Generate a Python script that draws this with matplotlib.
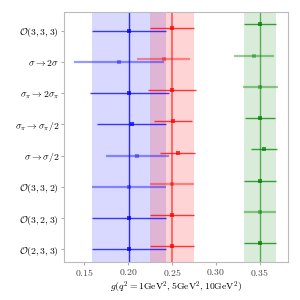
import matplotlib
matplotlib.use("Agg")
import matplotlib.pyplot as plt
import numpy as np

plt.rcParams['mathtext.fontset'] = 'cm'
plt.rcParams['font.family'] = ['DejaVu Serif']

labels = [r'$\mathcal{O}(3,3,3)$', r'$\sigma\rightarrow2\sigma$', r'$\sigma_\pi\rightarrow2\sigma_\pi$',
          r'$\sigma_\pi\rightarrow\sigma_\pi/2$', r'$\sigma\rightarrow\sigma/2$',
          r'$\mathcal{O}(3,3,2)$', r'$\mathcal{O}(3,2,3)$', r'$\mathcal{O}(2,3,3)$']

# values per q^2 (1, 5, 10 GeV^2), rows from top to bottom
blue_val = [0.2015, 0.1894, 0.2015, 0.2042, 0.2106, 0.2015, 0.2015, 0.2015]
blue_err = [0.042, 0.051, 0.045, 0.039, 0.036, 0.042, 0.042, 0.042]
red_val = [0.2497, 0.2406, 0.2500, 0.2508, 0.2565, 0.2497, 0.2497, 0.2497]
red_err = [0.025, 0.030, 0.027, 0.0216, 0.020, 0.025, 0.025, 0.025]
green_val = [0.350, 0.3436, 0.3503, 0.350, 0.3549, 0.350, 0.350, 0.350]
green_err = [0.018, 0.0227, 0.020, 0.017, 0.015, 0.018, 0.018, 0.018]
# faded (disfavoured) markers
blue_faded = [False, True, False, False, True, True, False, False]
red_faded = [False, True, False, False, False, True, False, False]
green_faded = [False, True, True, False, False, False, True, False]

xticks = [0.15, 0.20, 0.25, 0.30, 0.35]

fig = plt.figure(figsize=(3, 3), dpi=100)
ax = fig.add_axes([0.213, 0.127, 0.747, 0.833])

n = len(labels)
ypos = np.arange(n)[::-1]

series = [
    (blue_val, blue_err, blue_faded, 'blue', 0.0, 0.15),
    (red_val, red_err, red_faded, 'red', 0.1, 0.17),
    (green_val, green_err, green_faded, 'green', 0.2, 0.15),
]
for vals, errs, faded, col, off, balpha in series:
    v0, e0 = vals[0], errs[0]
    ax.axvspan(v0 - e0, v0 + e0, color=col, alpha=balpha, lw=0)
    ax.axvline(v0, color=col, alpha=0.6 if col != 'blue' else 0.8, lw=1.2 if col == 'red' else 1.0)
    for i in range(n):
        if faded[i]:
            a, lw = 0.4, 1.6
        else:
            a, lw = 0.75, 1.0
        ax.errorbar(vals[i], ypos[i] + off, xerr=errs[i], fmt='s', color=col,
                    ms=2.4, lw=lw, alpha=a, capsize=0, mew=0)

ax.set_xlim(0.127, 0.382)
ax.set_ylim(-0.4, 7.6)
ax.set_yticks(ypos)
ax.set_yticklabels(labels, fontsize=7)
ax.set_xticks(xticks)
ax.set_xticklabels([r'$%.2f$' % t for t in xticks], fontsize=7, color='#444444')
ax.set_xlabel(r'$g(q^2=1\mathrm{GeV}^2,5\mathrm{GeV}^2,10\mathrm{GeV}^2)$', fontsize=7, labelpad=1)
for s in ax.spines.values():
    s.set_color('#bbbbbb')
ax.tick_params(length=2, width=0.6, color='#999999', pad=1.5)

fig.savefig('out.png', dpi=100)
